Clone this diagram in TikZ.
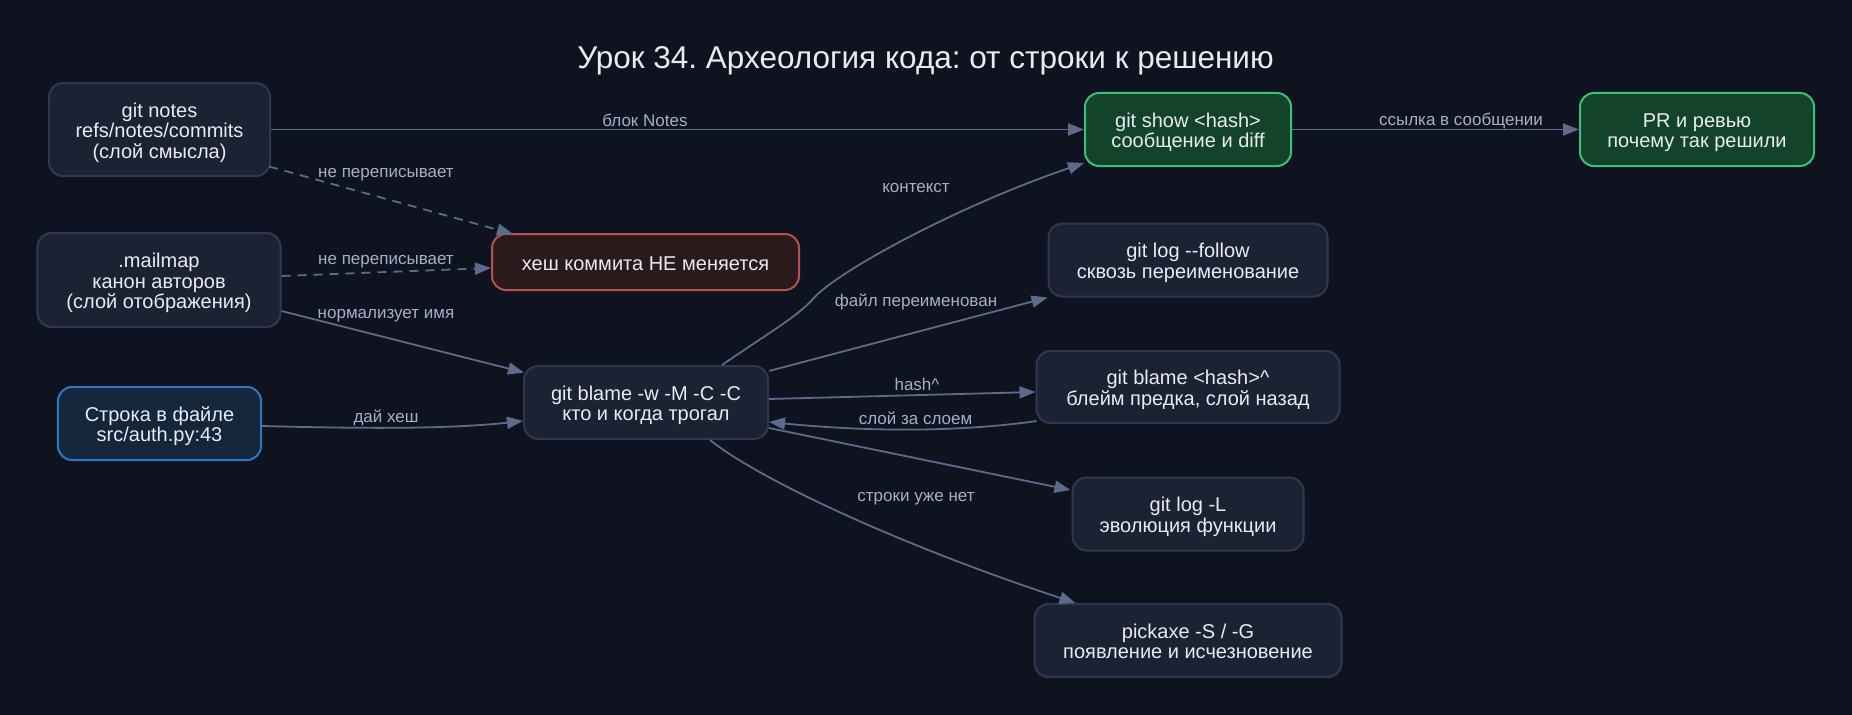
\documentclass[tikz,border=0pt]{standalone}
\usepackage{fontspec}
\setmainfont{Liberation Sans}
\usetikzlibrary{arrows.meta,calc}
\definecolor{bg}{HTML}{0F131F}
\definecolor{boxfill}{HTML}{1C2233}
\definecolor{boxdraw}{HTML}{2D3852}
\definecolor{hashfill}{HTML}{2A1A1B}
\definecolor{hashdraw}{HTML}{B5524F}
\definecolor{srcfill}{HTML}{14263A}
\definecolor{srcdraw}{HTML}{2F78C0}
\definecolor{okfill}{HTML}{14432C}
\definecolor{okdraw}{HTML}{3CBF7B}
\definecolor{edgec}{HTML}{5B6B8C}
\definecolor{lblc}{HTML}{A3B0C8}
\definecolor{txt}{HTML}{E8EBF2}
\newcommand{\TS}{\rule{0pt}{20.5bp}}
\newcommand{\BS}{\rule[-4.5bp]{0pt}{4.5bp}}
\frenchspacing
\begin{document}
\begin{tikzpicture}[x=1bp,y=-1bp,
  box/.style={draw=boxdraw, fill=boxfill, line width=2bp, rounded corners=14bp,
    text=txt, font=\fontsize{20bp}{20.5bp}\selectfont, align=center, inner sep=0pt},
  hashbox/.style={box, draw=hashdraw, fill=hashfill},
  srcbox/.style={box, draw=srcdraw, fill=srcfill},
  okbox/.style={box, draw=okdraw, fill=okfill},
  edge/.style={draw=edgec, line width=1.8bp, -{Triangle[length=16bp,width=12bp]}},
  dashedge/.style={edge, dash pattern=on 9bp off 7bp},
  lbl/.style={text=lblc, font=\fontsize{17bp}{19bp}\selectfont, inner sep=0pt}
]
\fill[bg] (0,0) rectangle (1852,715);
\useasboundingbox (0,0) rectangle (1852,715);

\node[text=txt, font=\fontsize{31.5bp}{36bp}\selectfont] (title) at (925.5,61) {Урок 34. Археология кода: от строки к решению};

\node[box, minimum width=221bp, minimum height=93bp] (gn) at (159.5,129.5) {\TS git notes\\refs/notes/commits\\(слой смысла)\BS};
\node[box, minimum width=243bp, minimum height=94bp] (mm) at (159,280) {\TS .mailmap\\канон авторов\\(слой отображения)\BS};
\node[srcbox, minimum width=203bp, minimum height=73bp] (sf) at (159.5,423.5) {\TS Строка в файле\\src/auth.py:43\BS};
\node[hashbox, minimum width=307bp, minimum height=56bp] (hash) at (645.5,262) {\TS хеш коммита НЕ меняется\BS};
\node[box, minimum width=244bp, minimum height=73bp] (gb) at (646,402.5) {\TS git blame -w -M -C -C\\кто и когда трогал\BS};
\node[okbox, minimum width=206bp, minimum height=73bp] (gs) at (1188,129.5) {\TS git show <hash>\\сообщение и diff\BS};
\node[okbox, minimum width=234bp, minimum height=73bp] (pr) at (1697,129.5) {\TS PR и ревью\\почему так решили\BS};
\node[box, minimum width=279bp, minimum height=73bp] (glf) at (1188,260) {\TS git log -{}-follow\\сквозь переименование\BS};
\node[box, minimum width=303bp, minimum height=72bp] (gbh) at (1188,387) {\TS git blame <hash>\^{}\\блейм предка, слой назад\BS};
\node[box, minimum width=231bp, minimum height=73bp] (gll) at (1188,514) {\TS git log -L\\эволюция функции\BS};
\node[box, minimum width=307bp, minimum height=73bp] (pk) at (1188,640.5) {\TS pickaxe -S / -G\\появление и исчезновение\BS};

% edges
\draw[edge] (gn.east) -- (gs.west);
\draw[dashedge] ($(gn.east)+(-2,37)$) -- ($(hash.north west)+(22,1)$);
\draw[dashedge] ($(mm.east)+(0,-4)$) -- ($(hash.west)+(0,6)$);
\draw[edge] ($(mm.east)+(0,31)$) -- ($(gb.west)+(1,-30)$);
\draw[edge] ($(sf.east)+(0,2.5)$) .. controls (340,428) and (440,430) .. ($(gb.west)+(0,18.5)$);
\draw[edge] ($(gb.north)+(76,0)$) .. controls (770,332) and (795,318) .. (812,300)
  .. controls (835,272) and (960,205) .. ($(gs.south west)+(0,-4)$);
\draw[edge] ($(gb.east)+(0,-31.5)$) -- (glf.south west);
\draw[edge] ($(gb.east)+(0,-3.5)$) -- ($(gbh.west)+(0,5)$);
\draw[edge] ($(gbh.west)+(1,34)$) .. controls (960,432) and (870,432) .. ($(gb.east)+(0,19.5)$);
\draw[edge] ($(gb.east)+(0,25.5)$) -- ($(gll.west)+(-1,-24)$);
\draw[edge] ($(gb.south)+(64,0)$) .. controls (760,480) and (900,545) .. ($(pk.north west)+(42,0)$);
\draw[edge] (gs.east) -- (pr.west);

% edge labels
\node[lbl] (l1) at (645,120) {блок Notes};
\node[lbl] (l2) at (386,175) {не переписывает};
\node[lbl] (l3) at (386,262) {не переписывает};
\node[lbl] (l4) at (386,316) {нормализует имя};
\node[lbl] (l5) at (386,418) {дай хеш};
\node[lbl] (l6) at (916,188) {контекст};
\node[lbl] (l7) at (916,302) {файл переименован};
\node[lbl] (l8) at (917,384) {hash\^{}};
\node[lbl] (l9) at (915.5,418) {слой за слоем};
\node[lbl] (l10) at (916,499) {строки уже нет};
\node[lbl] (l11) at (1461,121) {ссылка в сообщении};
\end{tikzpicture}
\end{document}
